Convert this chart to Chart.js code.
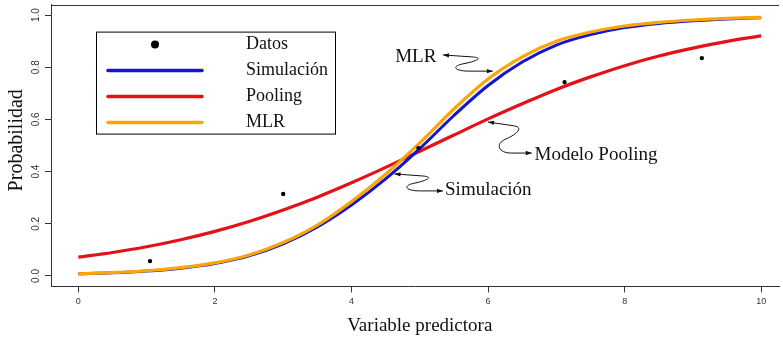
<!DOCTYPE html>
<html>
<head>
<meta charset="utf-8">
<script src="https://cdn.jsdelivr.net/npm/chart.js@4"></script>
<style>
  html, body { margin: 0; padding: 0; background: #fff; overflow: hidden; }
  #wrap { width: 783px; height: 343px; }
</style>
</head>
<body>
<div id="wrap"><canvas id="myChart" width="783" height="343"></canvas></div>
<script>
// predictor grid where the fitted curves are evaluated
const xGrid = [0, 0.5, 1, 1.5, 2, 2.5, 3, 3.5, 4, 4.5, 5, 5.5, 6, 6.5, 7, 7.5, 8, 8.5, 9, 9.5, 10];

const simulacion = [0.008, 0.012, 0.019, 0.030, 0.048, 0.077, 0.123, 0.188, 0.272, 0.372, 0.488,
                    0.615, 0.730, 0.820, 0.885, 0.925, 0.952, 0.968, 0.978, 0.985, 0.990];
const pooling    = [0.072, 0.090, 0.112, 0.139, 0.171, 0.209, 0.253, 0.302, 0.357, 0.416, 0.478,
                    0.540, 0.602, 0.660, 0.715, 0.763, 0.806, 0.843, 0.873, 0.899, 0.920];
const mlr        = [0.008, 0.013, 0.020, 0.032, 0.050, 0.080, 0.128, 0.195, 0.285, 0.390, 0.510,
                    0.640, 0.755, 0.840, 0.900, 0.935, 0.958, 0.972, 0.981, 0.987, 0.991];

// observed proportions
const datosX = [1.05, 3.0, 4.98, 7.12, 9.13];
const datosY = [0.057, 0.314, 0.49, 0.743, 0.835];

const xTicks = [0, 2, 4, 6, 8, 10];
const yTicks = [0, 0.2, 0.4, 0.6, 0.8, 1.0];

// curve labels: text anchor, arrow start on the curve, arrow end at the text
const notes = [
    { text: 'MLR',            tx: 4.64, ty: 0.84,  ax: 5.34, ay: 0.847, bx: 6.07, by: 0.785 },
    { text: 'Modelo Pooling', tx: 6.68, ty: 0.464, ax: 6.0,  ay: 0.59,  bx: 6.64, by: 0.471 },
    { text: 'Simulación',     tx: 5.37, ty: 0.33,  ax: 4.63, ay: 0.391, bx: 5.34, by: 0.326 }
];

const serif = '"Liberation Serif", "DejaVu Serif", serif';
const sans = '"Liberation Sans", Arial, sans-serif';

function toXY(xs, ys) {
    return xs.map((x, i) => ({ x: x, y: ys[i] }));
}

function arrowHead(ctx, x, y, fromX, fromY) {
    const ang = Math.atan2(y - fromY, x - fromX);
    const len = 6, wid = 2.2;
    ctx.beginPath();
    ctx.moveTo(x, y);
    ctx.lineTo(x - len * Math.cos(ang) + wid * Math.sin(ang), y - len * Math.sin(ang) - wid * Math.cos(ang));
    ctx.lineTo(x - len * Math.cos(ang) - wid * Math.sin(ang), y - len * Math.sin(ang) + wid * Math.cos(ang));
    ctx.closePath();
    ctx.fill();
}

// wavy double-headed connector
function squiggle(ctx, A, B) {
    const w = B.x - A.x, h = B.y - A.y;
    const p1x = A.x + 0.58 * w, p1y = A.y + 0.12 * h;
    const midY = A.y + 0.55 * h;
    ctx.beginPath();
    ctx.moveTo(A.x, A.y);
    ctx.lineTo(p1x, p1y);
    ctx.bezierCurveTo(p1x + 0.25 * w, p1y + 0.05 * h, p1x + 0.08 * w, midY - 0.15 * h, p1x - 0.18 * w, midY);
    ctx.bezierCurveTo(p1x - 0.42 * w, midY + 0.15 * h, p1x - 0.35 * w, B.y, p1x - 0.05 * w, B.y);
    ctx.lineTo(B.x, B.y);
    ctx.stroke();
    arrowHead(ctx, A.x, A.y, p1x, p1y);
    arrowHead(ctx, B.x, B.y, p1x - 0.05 * w, B.y);
}

const framePlugin = {
    id: 'rframe',
    afterDraw(chart) {
        const { ctx, chartArea, scales } = chart;
        const xs = scales.x, ys = scales.y;
        ctx.save();

        // top edge of the box
        ctx.strokeStyle = '#333';
        ctx.lineWidth = 1;
        ctx.beginPath();
        ctx.moveTo(chartArea.left, Math.round(chartArea.top) + 0.5);
        ctx.lineTo(chartArea.right, Math.round(chartArea.top) + 0.5);
        ctx.stroke();

        // vertical tick labels on the y axis
        ctx.fillStyle = '#333';
        ctx.font = '10px ' + sans;
        ctx.textAlign = 'center';
        ctx.textBaseline = 'middle';
        yTicks.forEach(v => {
            ctx.save();
            ctx.translate(36, ys.getPixelForValue(v));
            ctx.rotate(-Math.PI / 2);
            ctx.fillText(v.toFixed(1), 0, 0);
            ctx.restore();
        });

        // axis titles
        ctx.fillStyle = '#111';
        ctx.font = '19px ' + serif;
        ctx.fillText('Variable predictora', (xs.getPixelForValue(0) + xs.getPixelForValue(10)) / 2, 326);
        ctx.save();
        ctx.translate(17, ys.getPixelForValue(0.52));
        ctx.rotate(-Math.PI / 2);
        ctx.font = '20px ' + serif;
        ctx.fillText('Probabilidad', 0, 0);
        ctx.restore();

        // legend box
        const lx = chartArea.left + 45, ly = chartArea.top + 27;
        ctx.lineWidth = 1;
        ctx.strokeStyle = '#000';
        ctx.strokeRect(lx + 0.5, ly + 0.5, 239, 102);
        ctx.font = '18px ' + serif;
        ctx.textAlign = 'left';
        chart.data.datasets.forEach((ds, i) => {
            const rowY = ly + 13 + i * 26;
            if (ds.showLine === false) {
                ctx.fillStyle = '#000';
                ctx.beginPath();
                ctx.arc(lx + 59, rowY, 4, 0, Math.PI * 2);
                ctx.fill();
            } else {
                ctx.strokeStyle = ds.borderColor;
                ctx.lineWidth = 3.5;
                ctx.lineCap = 'round';
                ctx.beginPath();
                ctx.moveTo(lx + 12, rowY);
                ctx.lineTo(lx + 106, rowY);
                ctx.stroke();
            }
            ctx.fillStyle = '#111';
            ctx.fillText(ds.label, lx + 150, rowY);
        });

        // curve labels with connectors
        ctx.strokeStyle = '#111';
        ctx.fillStyle = '#111';
        ctx.lineWidth = 1;
        ctx.lineCap = 'butt';
        notes.forEach(n => {
            const A = { x: xs.getPixelForValue(n.ax), y: ys.getPixelForValue(n.ay) };
            const B = { x: xs.getPixelForValue(n.bx), y: ys.getPixelForValue(n.by) };
            squiggle(ctx, A, B);
            ctx.font = '19px ' + serif;
            ctx.textAlign = 'left';
            ctx.fillText(n.text, xs.getPixelForValue(n.tx), ys.getPixelForValue(n.ty));
        });

        ctx.restore();
    }
};

const data = {
    datasets: [
        {
            label: 'Datos',
            data: toXY(datosX, datosY),
            showLine: false,
            pointRadius: 2.2,
            pointBackgroundColor: '#000',
            pointBorderWidth: 0,
            order: 0
        },
        {
            label: 'Simulación',
            data: toXY(xGrid, simulacion),
            showLine: true,
            borderColor: 'rgb(20, 20, 210)',
            borderWidth: 3,
            pointRadius: 0,
            cubicInterpolationMode: 'monotone',
            order: 2
        },
        {
            label: 'Pooling',
            data: toXY(xGrid, pooling),
            showLine: true,
            borderColor: 'rgb(228, 18, 24)',
            borderWidth: 3.2,
            pointRadius: 0,
            cubicInterpolationMode: 'monotone',
            order: 3
        },
        {
            label: 'MLR',
            data: toXY(xGrid, mlr),
            showLine: true,
            borderColor: 'rgb(250, 165, 10)',
            borderWidth: 3.2,
            pointRadius: 0,
            cubicInterpolationMode: 'monotone',
            order: 1
        }
    ]
};

const config = {
    type: 'scatter',
    data: data,
    options: {
        responsive: false,
        animation: false,
        layout: { padding: { top: 4.6, right: 0, left: 0, bottom: 0 } },
        plugins: {
            legend: { display: false },
            tooltip: { enabled: false }
        },
        scales: {
            x: {
                type: 'linear',
                min: -0.4,
                max: 10.26,
                afterBuildTicks: s => { s.ticks = xTicks.map(v => ({ value: v })); },
                afterFit: s => { s.height = 56.6; },
                grid: { drawOnChartArea: false, drawTicks: true, tickLength: 6, color: '#333' },
                border: { display: true, color: '#333', width: 1 },
                ticks: {
                    maxRotation: 0,
                    padding: 4,
                    color: '#333',
                    font: { family: sans, size: 9 },
                    callback: v => String(v)
                }
            },
            y: {
                type: 'linear',
                min: -0.04,
                max: 1.04,
                afterBuildTicks: s => { s.ticks = yTicks.map(v => ({ value: v })); },
                afterFit: s => { s.width = 51; },
                grid: { drawOnChartArea: false, drawTicks: true, tickLength: 6, color: '#333' },
                border: { display: true, color: '#333', width: 1 },
                ticks: { display: false }
            }
        }
    },
    plugins: [framePlugin]
};

const ctx = document.getElementById('myChart').getContext('2d');
new Chart(ctx, config);
</script>
</body>
</html>
